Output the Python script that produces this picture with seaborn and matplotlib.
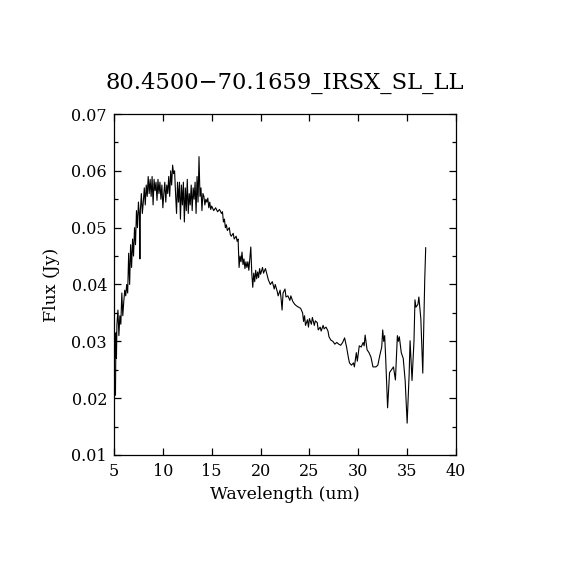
import matplotlib
matplotlib.use("Agg")
import matplotlib.pyplot as plt
import seaborn as sns
import pandas as pd
from matplotlib.ticker import MultipleLocator

title = "80.4500\u221270.1659_IRSX_SL_LL"
xlabel = "Wavelength (um)"
ylabel = "Flux (Jy)"

wavelength = [
    5.15, 5.2, 5.25, 5.3, 5.4, 5.5, 5.6, 5.7, 5.8, 5.9,
    6.0, 6.1, 6.2, 6.3, 6.4, 6.5, 6.6, 6.7, 6.8, 6.9,
    7.0, 7.1, 7.2, 7.3, 7.4, 7.5, 7.6, 7.65, 7.7, 7.8, 7.9,
    8.0, 8.1, 8.2, 8.3, 8.4, 8.5, 8.6, 8.7, 8.8, 8.9,
    9.0, 9.1, 9.2, 9.3, 9.4, 9.5, 9.6, 9.7, 9.8, 9.9,
    10.0, 10.1, 10.2, 10.3, 10.4, 10.5, 10.6, 10.7, 10.8, 10.9,
    11.0, 11.1, 11.2, 11.3, 11.4, 11.5, 11.6, 11.7, 11.8, 11.9,
    12.0, 12.1, 12.2, 12.3, 12.4, 12.5, 12.6, 12.7, 12.8, 12.9,
    13.0, 13.1, 13.2, 13.3, 13.4, 13.5, 13.6, 13.7, 13.8, 13.9,
    14.0, 14.1, 14.2, 14.3, 14.4, 14.5, 14.6, 14.7, 14.8, 14.9,
    15.0, 15.2, 15.4, 15.6, 15.8, 16.0, 16.1, 16.2, 16.3, 16.4,
    16.5, 16.6, 16.8, 16.9, 17.0, 17.2, 17.3, 17.5, 17.6, 17.7,
    17.8, 17.9, 18.0, 18.1, 18.2, 18.3, 18.4, 18.5, 18.6, 18.7,
    18.8, 18.9, 19.0, 19.1, 19.2, 19.3, 19.4, 19.5, 19.6, 19.7,
    19.8, 19.9, 20.0, 20.2, 20.3, 20.5, 20.7, 20.8, 21.0, 21.2,
    21.4, 21.5, 21.7, 21.8, 22.0, 22.1, 22.2, 22.3, 22.5, 22.6,
    22.8, 23.0, 23.1, 23.3, 23.5, 23.7, 23.9, 24.1, 24.3, 24.4,
    24.5, 24.6, 24.8, 24.9, 25.0, 25.2, 25.3, 25.5, 25.6, 25.8,
    25.9, 26.1, 26.2, 26.4, 26.5, 26.7, 26.9, 27.0, 27.2, 27.4,
    27.6, 27.8, 28.0, 28.2, 28.4, 28.6, 28.8, 29.0, 29.1, 29.3,
    29.5, 29.6, 29.8, 29.9, 30.1, 30.3, 30.5, 30.6, 30.7, 30.9,
    31.1, 31.3, 31.5, 31.8, 32.0, 32.2, 32.4, 32.5, 32.6, 32.7,
    32.8, 33.0, 33.2, 33.4, 33.6, 33.8, 34.0, 34.1, 34.2, 34.4,
    34.6, 34.8, 35.0, 35.2, 35.3, 35.5, 35.7, 35.8, 35.9, 36.1,
    36.2, 36.4, 36.6, 36.8, 36.9,
]

flux = [
    0.0205, 0.0315, 0.0270, 0.0330, 0.0355, 0.0310, 0.0345, 0.0330, 0.0385, 0.0345,
    0.0370, 0.0390, 0.0380, 0.0400, 0.0385, 0.0455, 0.0400, 0.0470, 0.0430, 0.0480,
    0.0450, 0.0500, 0.0470, 0.0530, 0.0500, 0.0545, 0.0520, 0.0445, 0.0530, 0.0560, 0.0525,
    0.0545, 0.0570, 0.0540, 0.0575, 0.0555, 0.0590, 0.0560, 0.0585, 0.0555, 0.0590,
    0.0540, 0.0585, 0.0565, 0.0580, 0.0548, 0.0585, 0.0560, 0.0580, 0.0550, 0.0575,
    0.0535, 0.0560, 0.0580, 0.0545, 0.0575, 0.0560, 0.0590, 0.0555, 0.0600, 0.0575,
    0.0610, 0.0595, 0.0600, 0.0560, 0.0525, 0.0580, 0.0545, 0.0580, 0.0515, 0.0575,
    0.0540, 0.0580, 0.0510, 0.0570, 0.0530, 0.0585, 0.0525, 0.0560, 0.0540, 0.0575,
    0.0530, 0.0570, 0.0550, 0.0580, 0.0525, 0.0590, 0.0545, 0.0625, 0.0555, 0.0570,
    0.0530, 0.0560, 0.0555, 0.0540, 0.0550, 0.0545, 0.0552, 0.0535, 0.0545, 0.0532,
    0.0538, 0.0530, 0.0535, 0.0528, 0.0532, 0.0525, 0.0528, 0.0510, 0.0515, 0.0500,
    0.0505, 0.0495, 0.0500, 0.0488, 0.0485, 0.0490, 0.0480, 0.0485, 0.0476, 0.0480,
    0.0430, 0.0450, 0.0440, 0.0457, 0.0435, 0.0445, 0.0428, 0.0440, 0.0430, 0.0440,
    0.0425, 0.0445, 0.0466, 0.0420, 0.0395, 0.0420, 0.0405, 0.0425, 0.0410, 0.0422,
    0.0412, 0.0428, 0.0418, 0.0430, 0.0420, 0.0428, 0.0415, 0.0408, 0.0400, 0.0405,
    0.0392, 0.0400, 0.0388, 0.0380, 0.0390, 0.0375, 0.0355, 0.0385, 0.0392, 0.0378,
    0.0380, 0.0372, 0.0380, 0.0370, 0.0365, 0.0362, 0.0360, 0.0358, 0.0350, 0.0335,
    0.0345, 0.0328, 0.0338, 0.0325, 0.0340, 0.0330, 0.0342, 0.0328, 0.0336, 0.0333,
    0.0320, 0.0325, 0.0318, 0.0328, 0.0322, 0.0325, 0.0318, 0.0308, 0.0302, 0.0300,
    0.0295, 0.0298, 0.0295, 0.0293, 0.0298, 0.0306, 0.0290, 0.0270, 0.0262, 0.0258,
    0.0262, 0.0255, 0.0280, 0.0265, 0.0292, 0.0290, 0.0298, 0.0292, 0.0311, 0.0285,
    0.0280, 0.0272, 0.0255, 0.0255, 0.0258, 0.0275, 0.0290, 0.0320, 0.0300, 0.0310,
    0.0272, 0.0183, 0.0245, 0.0250, 0.0255, 0.0232, 0.0310, 0.0300, 0.0308, 0.0280,
    0.0270, 0.0230, 0.0156, 0.0240, 0.0301, 0.0231, 0.0300, 0.0373, 0.0360, 0.0365,
    0.0378, 0.0340, 0.0244, 0.0408, 0.0465,
]

df = pd.DataFrame({"wavelength": wavelength, "flux": flux})

sns.set_theme(style="ticks")
plt.rcParams["font.family"] = ["DejaVu Serif", "DejaVu Sans"]

fig = plt.figure(figsize=(5.7, 5.7), dpi=100)
ax = fig.add_axes([0.2, 0.2018, 0.6, 0.5982])

sns.lineplot(data=df, x="wavelength", y="flux", ax=ax, sort=False,
             estimator=None, color="black", linewidth=0.8)

ax.set_xlim(5, 40)
ax.set_ylim(0.01, 0.07)
ax.xaxis.set_major_locator(MultipleLocator(5))
ax.yaxis.set_major_locator(MultipleLocator(0.01))
ax.yaxis.set_minor_locator(MultipleLocator(0.005))
ax.yaxis.set_major_formatter(matplotlib.ticker.FormatStrFormatter("%.2f"))

for s in ax.spines.values():
    s.set_visible(True)
    s.set_linewidth(0.9)
    s.set_color("black")

ax.tick_params(which="both", direction="in", top=True, right=True,
               colors="black", labelsize=11.5, width=0.9)
ax.tick_params(axis="x", which="major", length=5, pad=6)
ax.tick_params(axis="y", which="major", length=5, pad=5)
ax.tick_params(axis="y", which="minor", length=3)

ax.set_xlabel(xlabel, fontsize=12.5, labelpad=4, color="black")
ax.set_ylabel(ylabel, fontsize=12.5, labelpad=8, color="black")
ax.set_title(title, fontsize=16.3, pad=18, color="black")

fig.savefig("out.png", dpi=100, facecolor="white")
